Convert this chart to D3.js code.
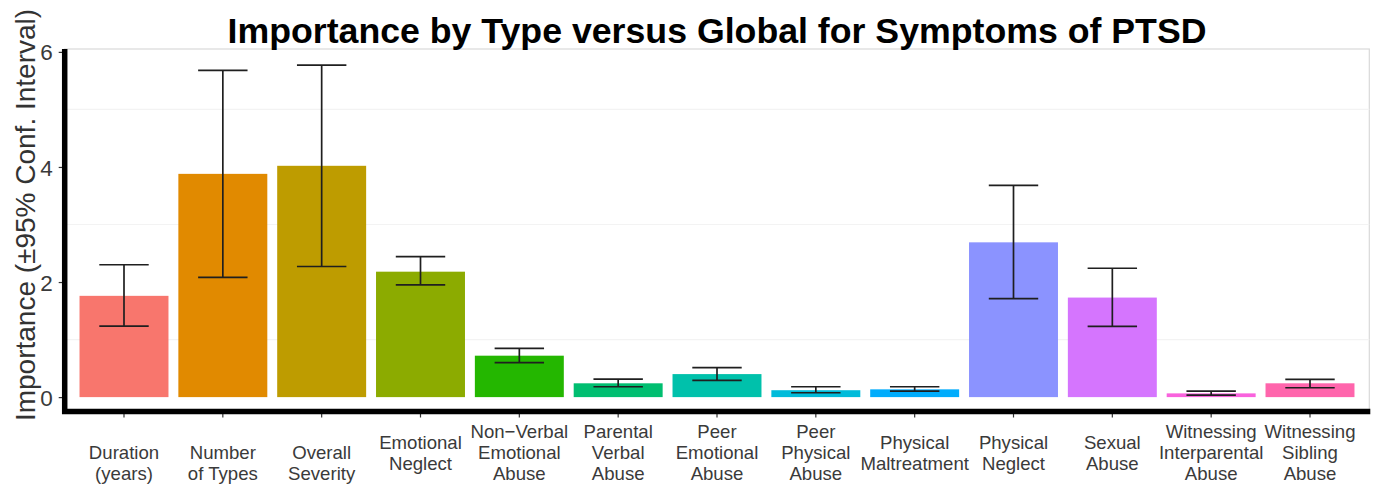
<!DOCTYPE html>
<html>
<head>
<meta charset="utf-8">
<script src="https://cdn.jsdelivr.net/npm/d3@7"></script>
<style>
  html, body { margin: 0; padding: 0; background: #ffffff; }
  svg { display: block; font-family: "Liberation Sans", Arial, Helvetica, sans-serif; }
</style>
</head>
<body>
<svg id="chart" width="1374" height="485"></svg>
<script>
// Predictor categories (each entry is the list of label lines under the tick)
const categories = [
  "Duration (years)", "Number of Types", "Overall Severity", "Emotional Neglect",
  "Non-Verbal Emotional Abuse", "Parental Verbal Abuse", "Peer Emotional Abuse",
  "Peer Physical Abuse", "Physical Maltreatment", "Physical Neglect",
  "Sexual Abuse", "Witnessing Interparental Abuse", "Witnessing Sibling Abuse"
];
const categoryLines = [
  ["", "Duration", "(years)"],
  ["", "Number", "of Types"],
  ["", "Overall", "Severity"],
  ["Emotional", "Neglect"],
  ["Non\u2212Verbal", "Emotional", "Abuse"],
  ["Parental", "Verbal", "Abuse"],
  ["Peer", "Emotional", "Abuse"],
  ["Peer", "Physical", "Abuse"],
  ["Physical", "Maltreatment"],
  ["Physical", "Neglect"],
  ["Sexual", "Abuse"],
  ["Witnessing", "Interparental", "Abuse"],
  ["Witnessing", "Sibling", "Abuse"]
];

// Importance estimates and 95% confidence limits
const importance = [1.76, 3.88, 4.02, 2.18, 0.72, 0.24, 0.40, 0.12, 0.135, 2.69, 1.73, 0.065, 0.24];
const ciLower    = [1.235, 2.08, 2.27, 1.95, 0.60, 0.18, 0.29, 0.076, 0.104, 1.71, 1.23, 0.035, 0.163];
const ciUpper    = [2.30, 5.68, 5.77, 2.44, 0.847, 0.313, 0.511, 0.18, 0.18, 3.68, 2.24, 0.104, 0.308];

// Axis ticks
const yTicks = [0, 2, 4, 6];
const yMinorGrid = [1, 3, 5];

// Discrete hue palette, one colour per category
const barColors = [
  "#F8766D", "#E18A00", "#BE9C00", "#8CAB00", "#24B700", "#00BE70", "#00C1AB",
  "#00BBDA", "#00ACFC", "#8B93FF", "#D575FE", "#F962DD", "#FF65AC"
];

const titleText = "Importance by Type versus Global for Symptoms of PTSD";
const yTitleText = "Importance (\u00B195% Conf. Interval)";

const rows = categories.map((c, i) => ({
  cat: c, lines: categoryLines[i], value: importance[i],
  lo: ciLower[i], hi: ciUpper[i], color: barColors[i]
}));

const svg = d3.select("#chart");
const panel = { left: 64.7, right: 1369.3, top: 49, bottom: 411.5 };

const x = d3.scaleBand()
  .domain(categories)
  .range([panel.left, panel.right])
  .paddingInner(0.1)
  .paddingOuter(0.15);

const y = d3.scaleLinear()
  .domain([-0.25, 6.05])
  .range([panel.bottom, panel.top]);

// Panel background and border
svg.append("rect")
  .attr("x", panel.left).attr("y", panel.top)
  .attr("width", panel.right - panel.left)
  .attr("height", panel.bottom - panel.top)
  .attr("fill", "#ffffff")
  .attr("stroke", "#d9d9d9")
  .attr("stroke-width", 1.2);

// Faint grid lines
svg.append("g").selectAll("line")
  .data(yMinorGrid)
  .join("line")
  .attr("x1", panel.left).attr("x2", panel.right)
  .attr("y1", d => y(d)).attr("y2", d => y(d))
  .attr("stroke", "#f3f3f3")
  .attr("stroke-width", 1.2);

// Bars
svg.append("g").selectAll("rect")
  .data(rows)
  .join("rect")
  .attr("x", d => x(d.cat))
  .attr("width", x.bandwidth())
  .attr("y", d => y(d.value))
  .attr("height", d => y(0) - y(d.value))
  .attr("fill", d => d.color);

// Error bars
const capHalf = x.step() * 0.25;
const eb = svg.append("g")
  .attr("stroke", "#1f1f1f")
  .attr("stroke-width", 1.7)
  .attr("fill", "none");
rows.forEach(d => {
  const cx = x(d.cat) + x.bandwidth() / 2;
  eb.append("line").attr("x1", cx).attr("x2", cx).attr("y1", y(d.hi)).attr("y2", y(d.lo));
  eb.append("line").attr("x1", cx - capHalf).attr("x2", cx + capHalf).attr("y1", y(d.hi)).attr("y2", y(d.hi));
  eb.append("line").attr("x1", cx - capHalf).attr("x2", cx + capHalf).attr("y1", y(d.lo)).attr("y2", y(d.lo));
});

// Y axis
const yAxis = svg.append("g")
  .attr("transform", `translate(${panel.left},0)`)
  .call(d3.axisLeft(y).tickValues(yTicks).tickSize(6).tickPadding(6).tickFormat(d3.format("d")));
yAxis.select(".domain").remove();
yAxis.selectAll(".tick line").attr("stroke", "#333").attr("stroke-width", 1.2);
yAxis.selectAll(".tick text")
  .attr("fill", "#3a3a3a")
  .style("font-size", "22.5px")
  .attr("dy", "0.36em");

// X axis
const xAxis = svg.append("g")
  .attr("transform", `translate(0,${panel.bottom})`)
  .call(d3.axisBottom(x).tickSize(6).tickFormat(""));
xAxis.select(".domain").remove();
xAxis.selectAll(".tick line").attr("stroke", "#333").attr("stroke-width", 1.2);

// Multi-line category labels, centred under each tick
const labelCenterY = 452.5;
const lineH = 21;
const labelG = svg.append("g")
  .attr("fill", "#3a3a3a")
  .style("font-size", "18.6px")
  .attr("text-anchor", "middle");
rows.forEach(d => {
  const cx = x(d.cat) + x.bandwidth() / 2;
  const n = d.lines.length;
  d.lines.forEach((t, k) => {
    labelG.append("text")
      .attr("x", cx)
      .attr("y", labelCenterY + (k - (n - 1) / 2) * lineH)
      .attr("dy", "0.36em")
      .text(t);
  });
});

// Heavy axis lines
svg.append("path")
  .attr("d", `M${panel.left},${panel.top} V${panel.bottom} H${panel.right + 1}`)
  .attr("fill", "none")
  .attr("stroke", "#000")
  .attr("stroke-width", 5.5)
  .attr("stroke-linejoin", "miter");

// Y axis title
svg.append("text")
  .attr("transform", `translate(35,215) rotate(-90)`)
  .attr("text-anchor", "middle")
  .attr("fill", "#333")
  .style("font-size", "28px")
  .text(yTitleText);

// Chart title
svg.append("text")
  .attr("x", (panel.left + panel.right) / 2)
  .attr("y", 43)
  .attr("text-anchor", "middle")
  .attr("fill", "#000")
  .style("font-size", "35.7px")
  .style("font-weight", "bold")
  .text(titleText);
</script>
</body>
</html>
